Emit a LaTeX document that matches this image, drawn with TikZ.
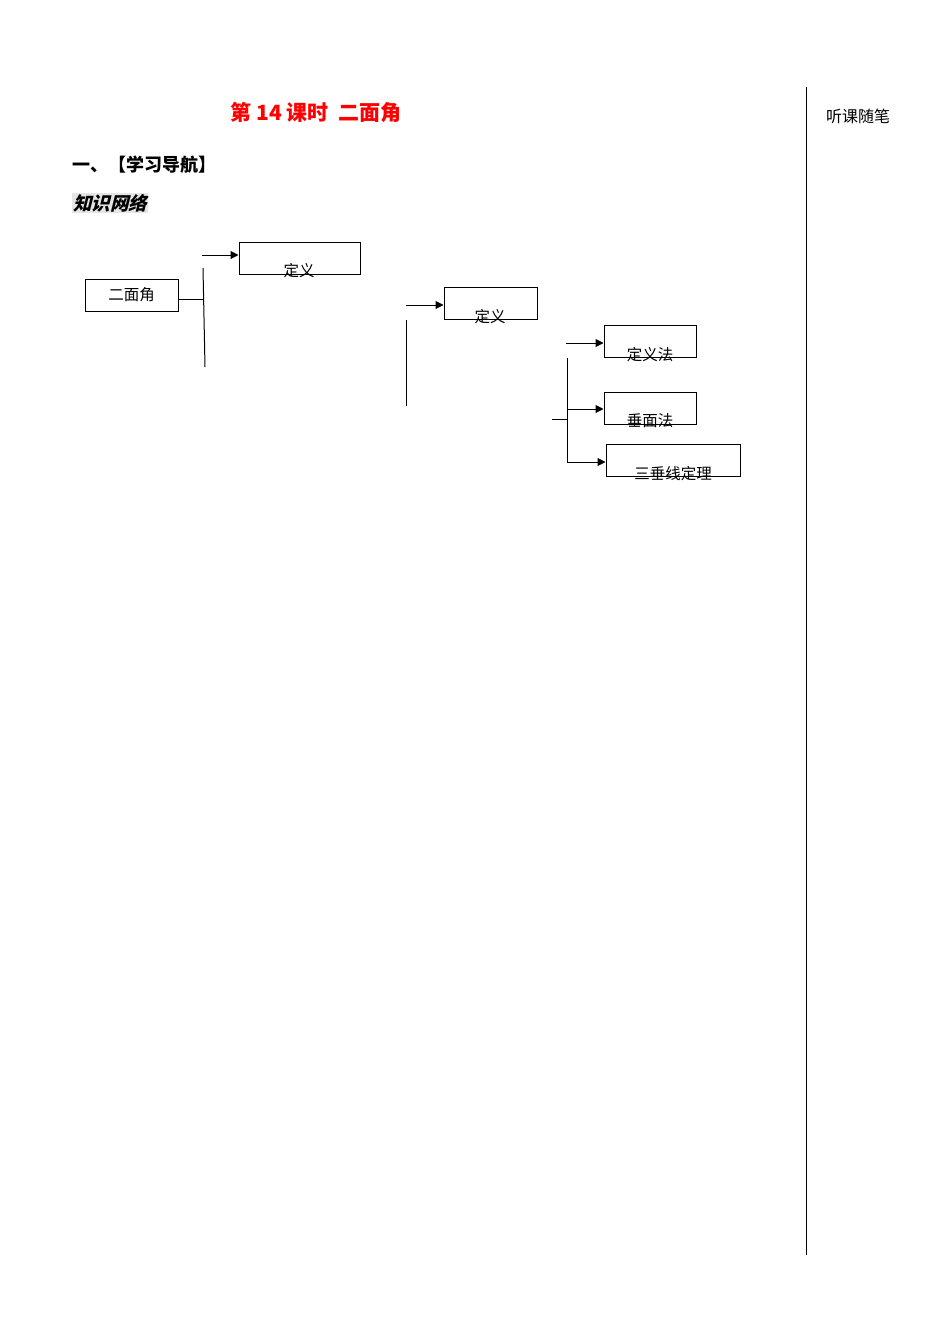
\documentclass[tikz,border=0pt]{standalone}
\usepackage{fontspec}
\setmainfont{Noto Sans CJK SC}
\newfontfamily\slcjk{Noto Sans CJK SC}[FakeSlant=0.25]
\usetikzlibrary{arrows.meta}
\begin{document}
\begin{tikzpicture}[x=1pt,y=-1pt,
  box/.style={draw,line width=1pt},
  lbl/.style={font=\fontsize{15.5}{16}\selectfont,inner sep=0pt},
  arr/.style={line width=1pt,-{Triangle[length=8pt,width=8pt]}},
  ln/.style={line width=1pt}]
\useasboundingbox (0,0) rectangle (950,1344);
\fill[white] (0,0) rectangle (950,1344);
\node[text=red,font=\bfseries\fontsize{21}{24}\selectfont,inner sep=0pt] (title) at (316,113) {第 14 课时\ \ 二面角};
\node[anchor=west,font=\bfseries\fontsize{18}{20}\selectfont,inner sep=0pt] (h1) at (72,165) {一、【学习导航】};
\node[anchor=west,fill=black!10,font=\bfseries\slcjk\fontsize{18.5}{20}\selectfont,inner sep=1pt] (h2) at (72,203) {知识网络};
\coordinate (vt) at (806,87); \coordinate (vb) at (806,1255);
\draw[ln] (vt) -- (vb);
\node[anchor=west,font=\fontsize{16}{18}\selectfont,inner sep=0pt] (note) at (826,116) {听课随笔};
% boxes
\node[box,minimum width=93pt,minimum height=32pt] (b1) at (131.5,295) {};
\node[lbl] at (b1) {二面角};
\node[box,minimum width=121pt,minimum height=32pt] (b2) at (299.5,258) {};
\node[lbl] (t2) at (299,271) {定义};
\node[box,minimum width=93pt,minimum height=32pt] (b3) at (490.5,303) {};
\node[lbl] (t3) at (490,317) {定义};
\node[box,minimum width=92pt,minimum height=32pt] (b4) at (650,341) {};
\node[lbl] (t4) at (650,355) {定义法};
\node[box,minimum width=92pt,minimum height=32pt] (b5) at (650,408) {};
\node[lbl] (t5) at (650,421) {垂面法};
\node[box,minimum width=134pt,minimum height=32pt] (b6) at (673,460) {};
\node[lbl] (t6) at (673,474) {三垂线定理};
% connectors
\coordinate (j1) at (203,299); \coordinate (j1t) at (203,268); \coordinate (j1b) at (205,367);
\draw[ln] (b1.east |- j1) -- (j1);
\draw[ln] (j1t) -- (j1b);
\coordinate (a1) at (202,255);
\draw[arr] (a1) -- (b2.west |- a1);
\coordinate (a2) at (406,305);
\draw[arr] (a2) -- (b3.west |- a2);
\coordinate (v2t) at (406,320); \coordinate (v2b) at (406,406);
\draw[ln] (v2t) -- (v2b);
\coordinate (a3) at (566,343);
\draw[arr] (a3) -- (b4.west |- a3);
\coordinate (v3t) at (567,358); \coordinate (v3b) at (567,462);
\draw[ln] (v3t) -- (v3b);
\coordinate (h3) at (552,419);
\draw[ln] (h3) -- (567,419);
\coordinate (a4) at (567,409);
\draw[arr] (a4) -- (b5.west |- a4);
\draw[arr] (v3b) -- (b6.west |- v3b);
\end{tikzpicture}
\end{document}
